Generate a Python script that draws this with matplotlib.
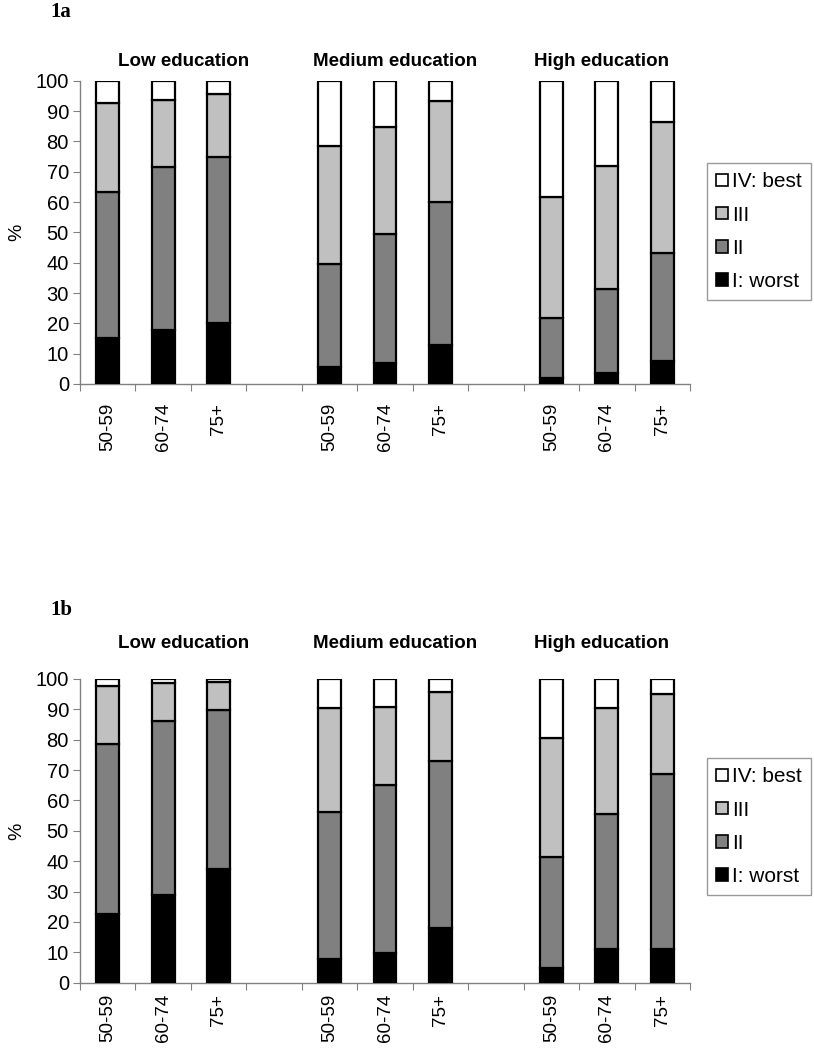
import numpy as np
import matplotlib
matplotlib.use("Agg")
import matplotlib.pyplot as plt
from matplotlib.patches import Patch
from matplotlib.transforms import blended_transform_factory, offset_copy

plt.rcParams['font.family'] = ['Liberation Sans', 'DejaVu Sans']

# categories
education = ["Low education", "Medium education", "High education"]
age_groups = ["50-59", "60-74", "75+"]
quartiles = ["I: worst", "II", "III", "IV: best"]
colors = ["#000000", "#808080", "#c0c0c0", "#ffffff"]

# shares (%) per bar: low 50-59, 60-74, 75+, medium ..., high ...
shares_1a = {
    "I: worst": [15.1, 17.8, 20.2, 5.7, 6.9, 12.9, 1.9, 3.7, 7.7],
    "II":       [48.3, 53.8, 54.5, 33.8, 42.4, 47.0, 19.8, 27.6, 35.6],
    "III":      [29.3, 22.0, 20.9, 39.0, 35.3, 33.4, 39.9, 40.6, 43.2],
    "IV: best": [7.3, 6.4, 4.4, 21.5, 15.4, 6.7, 38.4, 28.1, 13.5],
}
shares_1b = {
    "I: worst": [22.6, 28.9, 37.3, 7.7, 9.9, 17.9, 4.7, 11.1, 11.1],
    "II":       [56.0, 57.3, 52.5, 48.6, 55.2, 55.1, 36.8, 44.4, 57.5],
    "III":      [19.1, 12.6, 9.2, 34.0, 25.6, 22.6, 39.2, 34.8, 26.5],
    "IV: best": [2.3, 1.2, 1.0, 9.7, 9.3, 4.4, 19.3, 9.7, 4.9],
}

W, H = 814, 1050
fig = plt.figure(figsize=(W / 100, H / 100), dpi=100)

# bar slots: three per group, one empty slot between groups
positions = np.array([0, 1, 2, 4, 5, 6, 8, 9, 10])
title_x = [1.37, 5.19, 8.9]


def draw_panel(ax, shares, label_pad, title_off):
    bottom = np.zeros(len(positions))
    for q, c in zip(quartiles, colors):
        vals = np.array(shares[q])
        ax.bar(positions, vals, bottom=bottom, width=0.41, color=c,
               edgecolor="black", linewidth=1.6, zorder=3)
        bottom += vals
    ax.set_xlim(-0.5, 10.5)
    ax.set_ylim(0, 100)
    ax.set_yticks(np.arange(0, 101, 10))
    ax.set_xticks(np.arange(-0.5, 10.6, 1))
    ax.set_xticklabels([])
    ax.set_xticks(positions, minor=True)
    ax.set_xticklabels(age_groups * 3, minor=True, rotation=90,
                       fontsize=13.5)
    ax.tick_params(axis="x", which="major", length=5, color="#808080",
                   direction="out")
    ax.tick_params(axis="x", which="minor", length=0, pad=label_pad)
    ax.tick_params(axis="y", length=5, color="#808080", labelsize=14.5,
                   pad=3)
    for s in ["top", "right"]:
        ax.spines[s].set_visible(False)
    for s in ["left", "bottom"]:
        ax.spines[s].set_color("#808080")
        ax.spines[s].set_linewidth(1.0)
    trans = blended_transform_factory(ax.transData, ax.transAxes)
    trans = offset_copy(trans, fig=fig, y=title_off, units="dots")
    for x, t in zip(title_x, education):
        ax.text(x, 1.0, t, transform=trans, ha="center", va="center",
                fontsize=13.5, fontweight="bold")


# label, data, axes top/bottom (px), legend top, tick label pad, title offset
panels = [("1a", shares_1a, 80.7, 384, 163, 13.5, 19),
          ("1b", shares_1b, 679, 982.7, 758, 8, 36)]
for label, shares, top, bot, leg_top, pad, toff in panels:
    ax = fig.add_axes([80 / W, 1 - bot / H, 610 / W, (bot - top) / H])
    draw_panel(ax, shares, pad, toff)
    fig.text(50 / W, 1 - (top - 64) / H, label, fontsize=15,
             fontweight="bold", family="Liberation Serif", va="baseline")
    fig.text(17 / W, 1 - ((top + bot) / 2) / H, "%", rotation=90,
             fontsize=14, ha="center", va="center")
    handles = [Patch(facecolor=c, edgecolor="black", linewidth=1.2, label=q)
               for q, c in zip(quartiles, colors)][::-1]
    leg = fig.legend(handles=handles, loc="upper left",
                     bbox_to_anchor=(707 / W, 1 - leg_top / H),
                     fontsize=15, frameon=True, fancybox=False,
                     handlelength=0.55, handleheight=0.55, handletextpad=0.2,
                     labelspacing=0.68, borderpad=0.45, borderaxespad=0)
    leg.get_frame().set_edgecolor("#808080")
    leg.get_frame().set_linewidth(1.0)

fig.savefig("out.png", dpi=100)
